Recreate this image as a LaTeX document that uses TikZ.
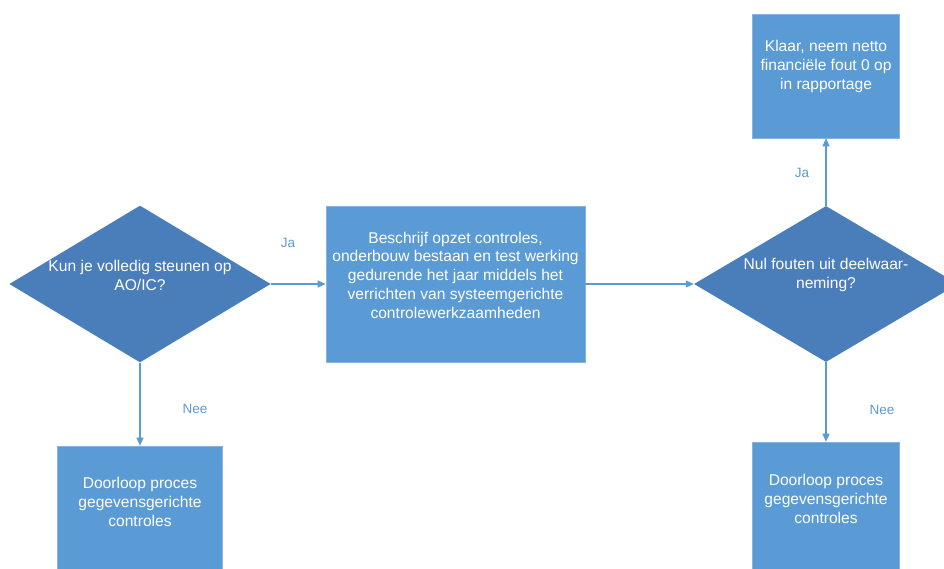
\documentclass[tikz,border=0pt]{standalone}
\usepackage{fontspec}
\setmainfont{Liberation Sans}
\usetikzlibrary{shapes.geometric, arrows.meta}
\definecolor{boxblue}{HTML}{5B9BD5}
\definecolor{diablue}{HTML}{4A7EBB}
\definecolor{linkblue}{HTML}{5B9BD5}

\begin{document}
\begin{tikzpicture}[x=1pt, y=-1pt,
    shapetext/.style={text=white, align=center, inner sep=0pt, font=\fontsize{15.6}{18.7}\selectfont},
    stepbox/.style={shapetext, rectangle, fill=boxblue, draw=boxblue!75!white, line width=0.6pt},
    question/.style={shapetext, diamond, fill=diablue, aspect=1.667},
    flow/.style={linkblue, line width=1.3pt, -{Triangle[length=8pt, width=7pt]}},
    answer/.style={text=linkblue, font=\fontsize{13.5}{16}\selectfont}]
\useasboundingbox (0,0) rectangle (944,569);
\clip (0,0) rectangle (944,569);

\node[question, minimum width=260pt, minimum height=156pt, text depth=17pt] (steunen) at (140,284) {Kun je volledig steunen op\\AO/IC?};
\node[stepbox, minimum width=259pt, minimum height=156pt, text depth=18pt] (opzet) at (455.5,284) {Beschrijf opzet controles,\\onderbouw bestaan en test werking\\gedurende het jaar middels het\\verrichten van systeemgerichte\\controlewerkzaamheden};
\node[question, minimum width=264pt, minimum height=156pt, text depth=21pt] (nulfouten) at (826,284) {Nul fouten uit deelwaar-\\neming?};
\node[stepbox, minimum width=147pt, minimum height=124pt, text depth=22pt] (klaar) at (826,76) {Klaar, neem netto\\financiële fout 0 op\\in rapportage};
\node[stepbox, minimum width=165pt, minimum height=132pt, text depth=20pt] (doorloopL) at (140,512) {Doorloop proces\\gegevensgerichte\\controles};
\node[stepbox, minimum width=147pt, minimum height=134pt, text depth=20pt] (doorloopR) at (826,509) {Doorloop proces\\gegevensgerichte\\controles};

\draw[flow] (steunen) -- (opzet);
\draw[flow] (opzet) -- (nulfouten);
\draw[flow] (nulfouten) -- (klaar);
\draw[flow] (nulfouten) -- (doorloopR);
\draw[flow] (steunen) -- (doorloopL);

\node[answer] (jaL) at (288,243) {Ja};
\node[answer] (jaT) at (802,173) {Ja};
\node[answer] (neeL) at (195,409) {Nee};
\node[answer] (neeR) at (882,410) {Nee};

\end{tikzpicture}
\end{document}
